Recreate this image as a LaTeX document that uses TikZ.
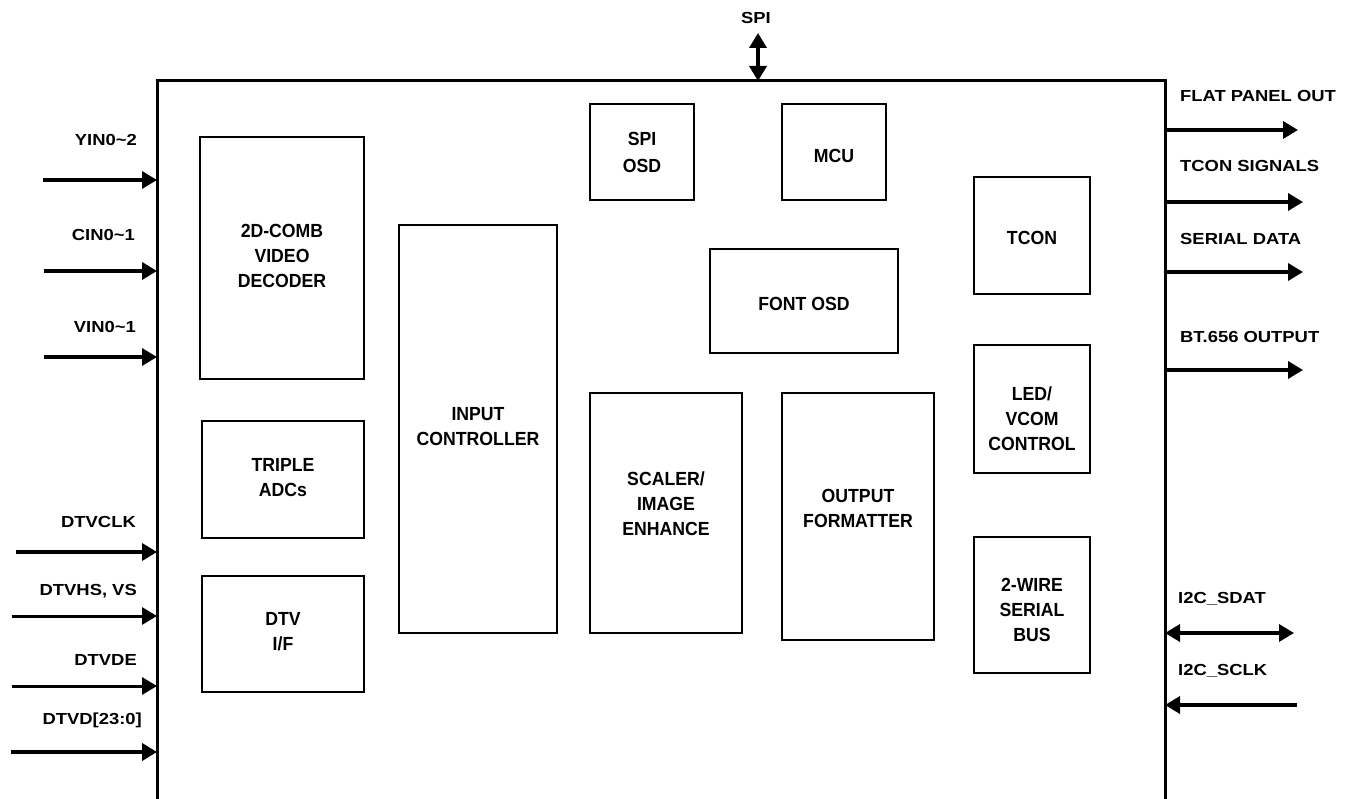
\documentclass[tikz,border=0pt]{standalone}
\usepackage{fontspec}
\setmainfont{Liberation Sans}[FakeStretch=1.15]
\newfontfamily\blkfont{Liberation Sans}[FakeStretch=0.93]
\usetikzlibrary{arrows.meta}
\begin{document}
\begin{tikzpicture}[x=1pt,y=-1pt,
  blk/.style={draw,line width=2.5pt,inner sep=0pt},
  btxt/.style={align=center,font=\blkfont\fontsize{19}{25}\selectfont\bfseries,inner sep=0pt},
  lbl/.style={font=\fontsize{16}{16.5}\selectfont\bfseries,inner sep=0pt},
  tip/.tip={Triangle[length=15pt,width=17pt]},
  sig/.style={line width=3.5pt,-tip},
  bsig/.style={line width=3.5pt,tip-tip}]
\useasboundingbox (0,0) rectangle (1352,799);
% outer chip outline
\draw[line width=3pt] (157,805) -- (157,81) -- (1165,81) -- (1165,805);
% blocks
\node[blk,minimum width=164pt,minimum height=242pt] (comb) at (282,258) {};
\node[btxt] (combt) at ([yshift=2.5pt]comb.center) {2D-COMB\\VIDEO\\DECODER};
\node[blk,minimum width=162pt,minimum height=117pt] (adc) at (283,479.5) {};
\node[btxt] (adct) at ([yshift=1.5pt]adc.center) {TRIPLE\\ADCs};
\node[blk,minimum width=162pt,minimum height=116pt] (dtv) at (283,634) {};
\node[btxt] (dtvt) at ([yshift=2pt]dtv.center) {DTV\\I/F};
\node[blk,minimum width=158pt,minimum height=408pt] (inctl) at (478,429) {};
\node[btxt] (inctlt) at ([yshift=2pt]inctl.center) {INPUT\\CONTROLLER};
\node[blk,minimum width=104pt,minimum height=96pt] (spiosd) at (642,152) {};
\node[btxt,font=\blkfont\fontsize{19}{27}\selectfont\bfseries] (spiosdt) at (spiosd.center) {SPI\\OSD};
\node[blk,minimum width=104pt,minimum height=96pt] (mcu) at (834,152) {};
\node[btxt] (mcut) at ([yshift=-4pt]mcu.center) {MCU};
\node[blk,minimum width=188pt,minimum height=104pt] (font) at (804,301) {};
\node[btxt] (fontt) at ([yshift=-2.5pt]font.center) {FONT OSD};
\node[blk,minimum width=152pt,minimum height=240pt] (scaler) at (666,513) {};
\node[btxt] (scalert) at ([yshift=9pt]scaler.center) {SCALER/\\IMAGE\\ENHANCE};
\node[blk,minimum width=152pt,minimum height=247pt] (outfmt) at (858,516.5) {};
\node[btxt] (outfmtt) at ([yshift=8pt]outfmt.center) {OUTPUT\\FORMATTER};
\node[blk,minimum width=116pt,minimum height=117pt] (tcon) at (1032,235.5) {};
\node[btxt] (tcont) at ([yshift=-2pt]tcon.center) {TCON};
\node[blk,minimum width=116pt,minimum height=128pt] (led) at (1032,409) {};
\node[btxt] (ledt) at ([yshift=-10pt]led.center) {LED/\\VCOM\\CONTROL};
\node[blk,minimum width=116pt,minimum height=136pt] (wire) at (1032,605) {};
\node[btxt] (wiret) at ([yshift=-5pt]wire.center) {2-WIRE\\SERIAL\\BUS};
% SPI top
\node[lbl] (spil) at (756,18) {SPI};
\coordinate (spitop) at (758,33);
\coordinate (spibot) at (758,81);
\draw[bsig] (spitop) -- (spibot);
% left inputs
\node[lbl,anchor=east] (yinl) at (137,140) {YIN0\textasciitilde2};
\coordinate (yins) at (43,180); \coordinate (yine) at (157,180);
\draw[sig] (yins) -- (yine);
\node[lbl,anchor=east] (cinl) at (135,235) {CIN0\textasciitilde1};
\coordinate (cins) at (44,271); \coordinate (cine) at (157,271);
\draw[sig] (cins) -- (cine);
\node[lbl,anchor=east] (vinl) at (136,327) {VIN0\textasciitilde1};
\coordinate (vins) at (44,357); \coordinate (vine) at (157,357);
\draw[sig] (vins) -- (vine);
\node[lbl,anchor=east] (clkl) at (136,522) {DTVCLK};
\coordinate (clks) at (16,552); \coordinate (clke) at (157,552);
\draw[sig] (clks) -- (clke);
\node[lbl,anchor=east] (hsl) at (137,591) {DTVHS, VS};
\coordinate (hss) at (12,616); \coordinate (hse) at (157,616);
\draw[sig,line width=3pt] (hss) -- (hse);
\node[lbl,anchor=east] (del) at (137,660) {DTVDE};
\coordinate (des) at (12,686); \coordinate (dee) at (157,686);
\draw[sig,line width=3pt] (des) -- (dee);
\node[lbl,anchor=east] (dl) at (142,720) {DTVD[23:0]};
\coordinate (ds) at (11,752); \coordinate (de) at (157,752);
\draw[sig,line width=4pt] (ds) -- (de);
% right outputs
\node[lbl,anchor=west] (fpl) at (1180,96) {FLAT PANEL OUT};
\coordinate (fps) at (1165,130); \coordinate (fpe) at (1298,130);
\draw[sig] (fps) -- (fpe);
\node[lbl,anchor=west] (tsl) at (1180,166) {TCON SIGNALS};
\coordinate (tss) at (1165,202); \coordinate (tse) at (1303,202);
\draw[sig] (tss) -- (tse);
\node[lbl,anchor=west] (sdl) at (1180,239) {SERIAL DATA};
\coordinate (sds) at (1165,272); \coordinate (sde) at (1303,272);
\draw[sig] (sds) -- (sde);
\node[lbl,anchor=west] (btl) at (1180,337) {BT.656 OUTPUT};
\coordinate (bts) at (1165,370); \coordinate (bte) at (1303,370);
\draw[sig] (bts) -- (bte);
\node[lbl,anchor=west] (sdatl) at (1178,599) {I2C\_SDAT};
\coordinate (sdats) at (1165,633); \coordinate (sdate) at (1294,633);
\draw[bsig] (sdats) -- (sdate);
\node[lbl,anchor=west] (sclkl) at (1178,671) {I2C\_SCLK};
\coordinate (sclks) at (1297,705); \coordinate (sclke) at (1165,705);
\draw[sig] (sclks) -- (sclke);
\end{tikzpicture}
\end{document}
